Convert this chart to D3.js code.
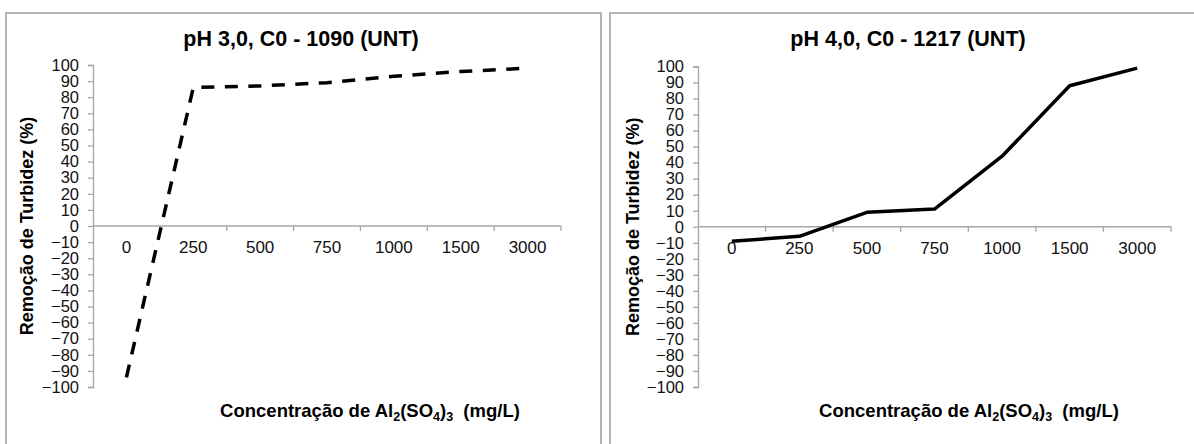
<!DOCTYPE html>
<html>
<head>
<meta charset="utf-8">
<script src="https://cdn.jsdelivr.net/npm/d3@7"></script>
<style>
  body { margin: 0; background: #fff; }
  svg { display: block; font-family: Arial, "Liberation Sans", sans-serif; }
</style>
</head>
<body>
<svg id="chart" width="1194" height="444"></svg>
<script>
// dose categories (mg/L) and turbidity removal (%)
const doses = ["0", "250", "500", "750", "1000", "1500", "3000"];
const removalPH3 = [-94, 86, 87, 89, 93, 96, 98];
const removalPH4 = [-9, -6, 9, 11, 44, 88, 99];
const yTicks = d3.range(-100, 101, 10);

const titles = ["pH 3,0, C0 - 1090 (UNT)", "pH 4,0, C0 - 1217 (UNT)"];

const svg = d3.select("#chart");

function drawPanel(cfg) {
  const g = svg.append("g");

  // outer frame
  g.append("rect")
    .attr("x", cfg.frame[0]).attr("y", cfg.frame[1])
    .attr("width", cfg.frame[2]).attr("height", cfg.frame[3])
    .attr("fill", "none").attr("stroke", "#b3b3b3").attr("stroke-width", 2);

  const x = d3.scaleBand().domain(doses).range([cfg.x0, cfg.x1]).padding(0);
  const y = d3.scaleLinear().domain([-100, 100]).range([cfg.yBottom, cfg.yTop]);

  // y axis
  const yAxis = g.append("g")
    .attr("transform", `translate(${cfg.x0},0)`)
    .call(d3.axisLeft(y).tickValues(yTicks).tickSize(5).tickPadding(9).tickSizeOuter(5));
  yAxis.select(".domain").attr("stroke", "#a6a6a6").attr("stroke-width", 1.3);
  yAxis.selectAll(".tick line").attr("stroke", "#a6a6a6").attr("stroke-width", 1.3);
  yAxis.selectAll(".tick text")
    .attr("font-size", 16.5).attr("fill", "#111").attr("font-family", "Arial, 'Liberation Sans', sans-serif");

  // x axis line at zero
  g.append("line")
    .attr("x1", cfg.x0).attr("x2", cfg.x1)
    .attr("y1", y(0)).attr("y2", y(0))
    .attr("stroke", "#a6a6a6").attr("stroke-width", 1.3);

  g.selectAll(".xtick")
    .data(doses)
    .join("line")
    .attr("x1", d => x(d) + x.bandwidth())
    .attr("x2", d => x(d) + x.bandwidth())
    .attr("y1", y(0)).attr("y2", y(0) + 5)
    .attr("stroke", "#a6a6a6").attr("stroke-width", 1.3);

  g.selectAll(".xlab")
    .data(doses)
    .join("text")
    .attr("x", d => x(d) + x.bandwidth() / 2)
    .attr("y", y(0) + 27)
    .attr("text-anchor", "middle")
    .attr("font-size", 17)
    .attr("fill", "#111")
    .text(d => d);

  // series line
  const line = d3.line()
    .x((d, i) => x(doses[i]) + x.bandwidth() / 2)
    .y(d => y(d));

  g.append("path")
    .datum(cfg.values)
    .attr("fill", "none")
    .attr("stroke", "#000")
    .attr("stroke-width", 3.5)
    .attr("stroke-linejoin", "round")
    .attr("stroke-dasharray", cfg.dashed ? "13,10.5" : null)
    .attr("d", line);

  // title
  g.append("text")
    .attr("x", cfg.titleX).attr("y", 46)
    .attr("text-anchor", "middle")
    .attr("font-size", 21.5).attr("font-weight", "bold")
    .text(cfg.title);

  // y axis title
  g.append("text")
    .attr("transform", `translate(${cfg.yTitleX},${(cfg.yTop + cfg.yBottom) / 2}) rotate(-90)`)
    .attr("text-anchor", "middle")
    .attr("dy", "0.35em")
    .attr("font-size", 18).attr("font-weight", "bold")
    .text("Remoção de Turbidez (%)");

  // x axis title with subscripts
  const xt = g.append("text")
    .attr("x", cfg.xTitleX).attr("y", 417)
    .attr("text-anchor", "middle")
    .attr("font-size", 18.5).attr("font-weight", "bold");
  xt.append("tspan").text("Concentração de Al");
  xt.append("tspan").attr("font-size", 12.5).attr("dy", 4).text("2");
  xt.append("tspan").attr("dy", -4).text("(SO");
  xt.append("tspan").attr("font-size", 12.5).attr("dy", 4).text("4");
  xt.append("tspan").attr("dy", -4).text(")");
  xt.append("tspan").attr("font-size", 12.5).attr("dy", 4).text("3");
  xt.append("tspan").attr("dy", -4).text("\u00a0 (mg/L)");
}

drawPanel({
  frame: [6, 13, 595, 450],
  x0: 93, x1: 561, yTop: 65, yBottom: 387,
  values: removalPH3, dashed: true,
  title: titles[0], titleX: 301, yTitleX: 27, xTitleX: 370
});

drawPanel({
  frame: [610, 13, 600, 450],
  x0: 698, x1: 1171, yTop: 66.5, yBottom: 387,
  values: removalPH4, dashed: false,
  title: titles[1], titleX: 908, yTitleX: 633, xTitleX: 969
});
</script>
</body>
</html>
